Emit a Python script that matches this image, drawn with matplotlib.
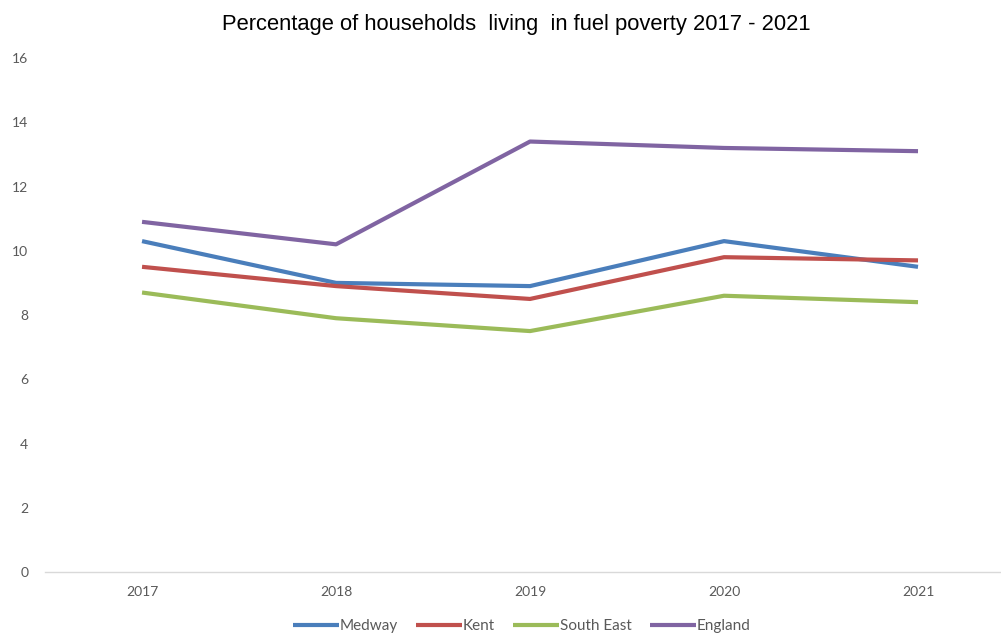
import matplotlib.pyplot as plt

# Fuel poverty share (%) by area, 2017-2021
years = ['2017', '2018', '2019', '2020', '2021']
medway = [10.3, 9.0, 8.9, 10.3, 9.5]
kent = [9.5, 8.9, 8.5, 9.8, 9.7]
south_east = [8.7, 7.9, 7.5, 8.6, 8.4]
england = [10.9, 10.2, 13.4, 13.2, 13.1]

series = [
    ('Medway', medway, '#4a7ebb'),
    ('Kent', kent, '#c0504d'),
    ('South East', south_east, '#9bbb59'),
    ('England', england, '#8064a2'),
]

fig = plt.figure(figsize=(10.01, 6.36), dpi=100)
ax = fig.add_axes([0.045, 0.1006, 0.969, 0.8082])

x = range(len(years))
for name, vals, col in series:
    ax.plot(x, vals, color=col, lw=3.0, label=name, solid_capstyle='butt')

ax.set_xlim(-0.5, len(years) - 0.5)
ax.set_ylim(0, 16)
ax.set_yticks(range(0, 17, 2))
ax.set_xticks(list(x))
ax.set_xticklabels(years)

for s in ['top', 'right', 'left']:
    ax.spines[s].set_visible(False)
ax.spines['bottom'].set_color('#d9d9d9')
ax.spines['bottom'].set_linewidth(1.0)
ax.tick_params(axis='both', length=0, labelsize=10, labelcolor='#595959')
ax.tick_params(axis='x', pad=10)
ax.tick_params(axis='y', pad=12)
for lbl in ax.get_xticklabels() + ax.get_yticklabels():
    lbl.set_fontfamily('Lato')

fig.text(0.516, 0.962, 'Percentage of households  living  in fuel poverty 2017 - 2021',
         ha='center', va='center', fontsize=15.8, family='Liberation Sans', color='black')

leg = fig.legend(loc='center', bbox_to_anchor=(0.521, 0.015), ncol=4, frameon=False,
                 handlelength=3.0, handletextpad=0.05, columnspacing=1.2,
                 prop={'family': 'Lato', 'size': 11})
for t in leg.get_texts():
    t.set_color('#595959')

fig.savefig('out.png', dpi=100)
